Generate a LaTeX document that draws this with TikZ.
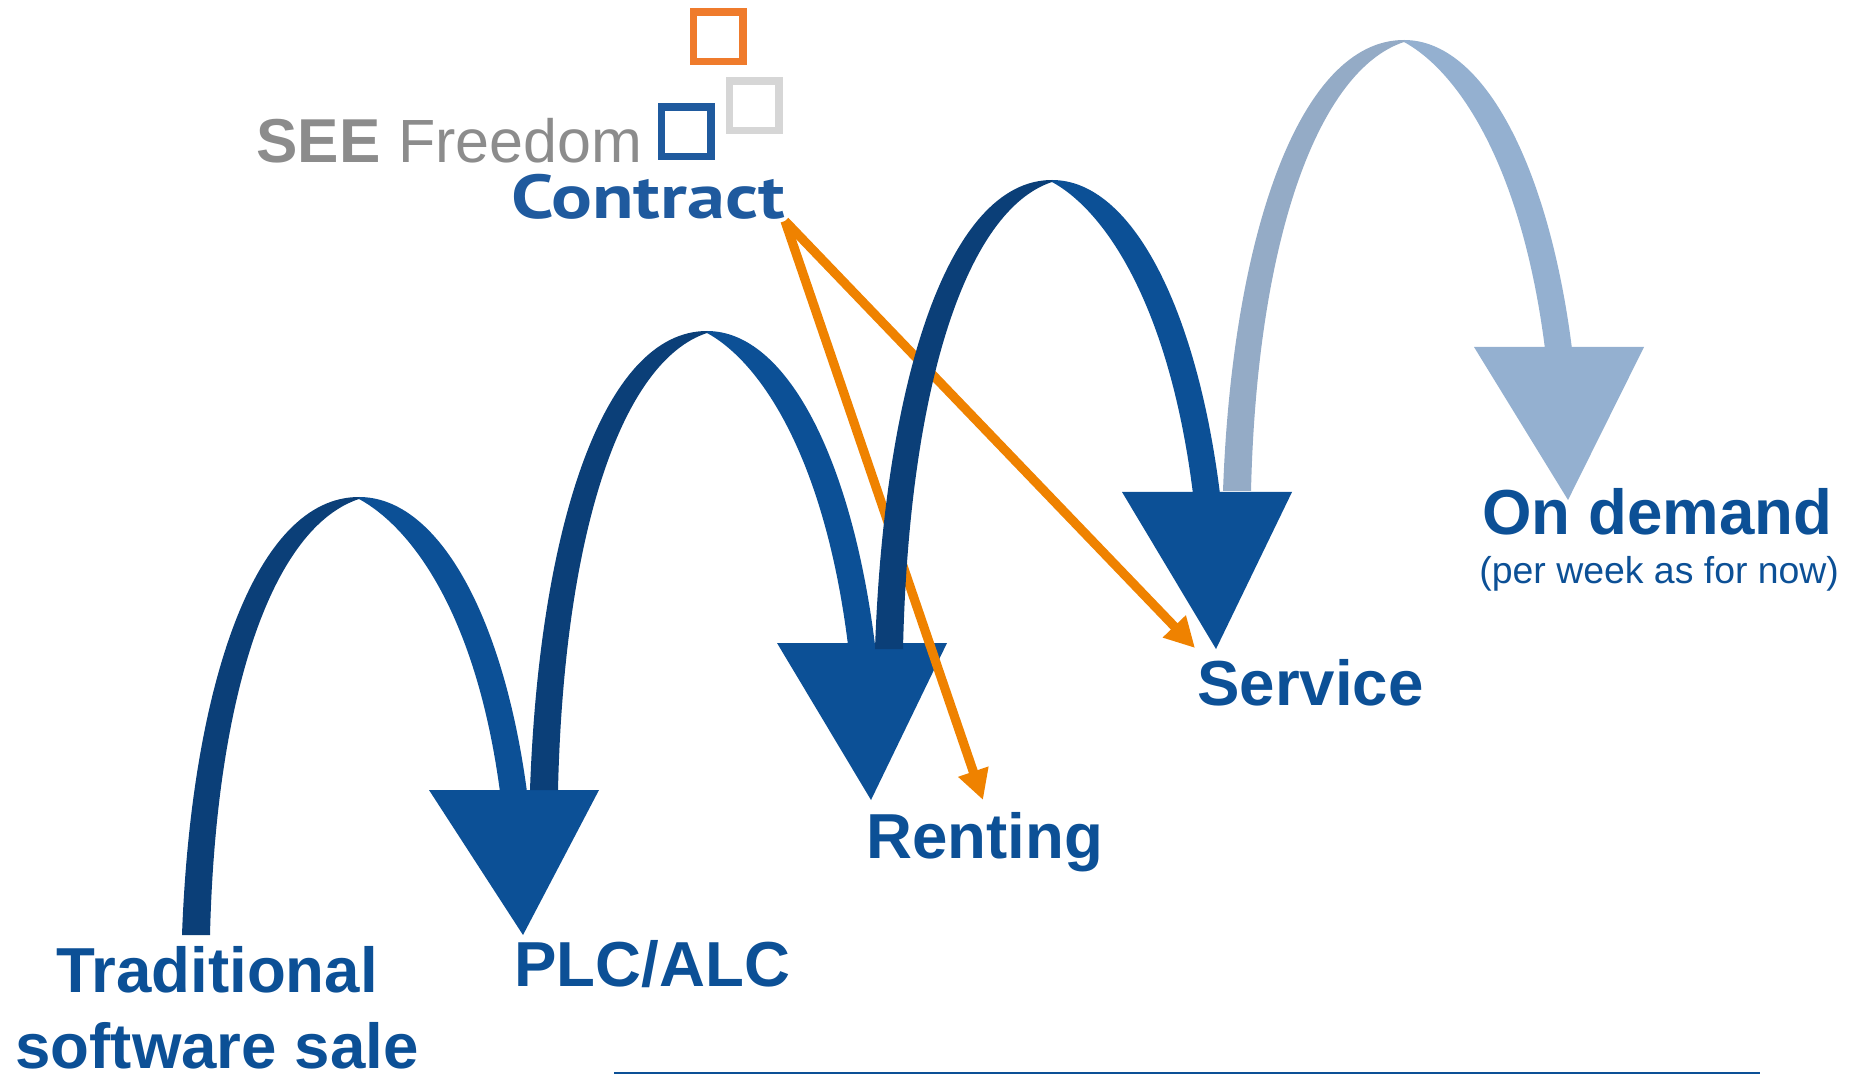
\documentclass[tikz,border=0pt]{standalone}
\usepackage{fontspec}
\setmainfont{Liberation Sans}
\newfontfamily\handfont{PT Sans}
\usetikzlibrary{arrows.meta}
\definecolor{hopdark}{HTML}{0B3F78}
\definecolor{hopblue}{HTML}{0C5096}
\definecolor{fadedark}{HTML}{94ABC6}
\definecolor{fadeblue}{HTML}{94B0D0}
\definecolor{contractorange}{HTML}{EF8200}
\definecolor{logoorange}{HTML}{EF7B2C}
\definecolor{logoblue}{HTML}{1F5A9E}
\definecolor{logogrey}{HTML}{D6D6D6}
\definecolor{logotext}{HTML}{8C8C8C}
\tikzset{
  hoplabel/.style={text=hopblue,font=\bfseries\fontsize{31.8}{38}\selectfont,align=center,inner sep=0pt},
  logobox/.style={line width=3.6pt,minimum size=24.9pt,inner sep=0pt},
  contractline/.style={draw=contractorange,line width=4.6pt,-{Triangle[length=15pt,width=15pt]}}
}
% #1,#2 top of the hop; #3 drop to the foot; #4 drop to the head; #5 foot shift; #6 tip drop; #7,#8 colours
\newcommand{\hopArc}[8]
{ \begin{scope}[shift={(#1,#2)}]
  \fill[#8] (0,-2) .. controls (80,-2) and (145,{0.41*#4}) .. (168,#4+2) -- (141,#4+2) .. controls (118,{0.41*#4}) and (55,30) .. (0,0) -- cycle;
  \fill[#8] (70,#4) -- (240,#4) -- (164,#6) -- cycle;
  \fill[#7] (0,-2) .. controls (-105,-2) and (-168+#5,{0.435*#3}) .. (-177+#5,#3) -- (-149+#5,#3) .. controls (-143+#5,{0.435*#3}) and (-85,28) .. (0,0) -- cycle;
  \end{scope}
}
\begin{document}
\begin{tikzpicture}[x=0.5pt,y=-0.5pt]
 \useasboundingbox (0,0) rectangle (1856,1074);

 \hopArc{359}{499}{436}{291}{0}{436}{hopdark}{hopblue}
 \hopArc{707}{333}{457}{310}{0}{467}{hopdark}{hopblue}

 \node[inner sep=0pt] (contract) at (648,197) {\handfont\bfseries\textcolor{logoblue}{\fontsize{31}{36}\selectfont\scalebox{1.23}[1]{Contract}}};
 \coordinate (contractend) at (785,221);
 \coordinate (rentingend) at (983,800);
 \coordinate (serviceend) at (1195,648);
 % arrows run over the second hop and under the third
 \draw[contractline] (contractend) -- (rentingend);
 \draw[contractline] (contractend) -- (serviceend);

 \hopArc{1052}{182}{467}{310}{0}{467}{hopdark}{hopblue}
 \hopArc{1404}{42}{449}{305}{-4}{458}{fadedark}{fadeblue}

 \node[hoplabel,anchor=base] (sale) at (217,992) {Traditional};
 \node[hoplabel,anchor=base] (software) at (217,1068) {software sale};
 \node[hoplabel,anchor=base west] (plc) at (514,986) {PLC/ALC};
 \node[hoplabel,anchor=base west] (renting) at (866,858) {Renting};
 \node[hoplabel,anchor=base west] (service) at (1197,705) {Service};
 \node[hoplabel,anchor=base west] (demand) at (1482,534) {On demand};
 \node[text=hopblue,inner sep=0pt,anchor=base west,font=\fontsize{18.7}{23}\selectfont] (week) at (1479,583) {(per week as for now)};

 \node[inner sep=0pt,anchor=base west,text=logotext,font=\bfseries\fontsize{31}{36}\selectfont] (see) at (256,163) {SEE};
 \node[inner sep=0pt,anchor=base west,text=logotext,font=\fontsize{30.5}{36}\selectfont] (freedom) at (398,163) {Freedom};
 \node[logobox,draw=logoorange] (orangebox) at (718,37) {};
 \node[logobox,draw=logogrey] (greybox) at (754,106) {};
 \node[logobox,draw=logoblue] (bluebox) at (686,132) {};

 \coordinate (rulestart) at (614,1073);
 \coordinate (ruleend) at (1760,1073);
 \draw[hopblue,line width=1pt] (rulestart) -- (ruleend);

\end{tikzpicture}
\end{document}
